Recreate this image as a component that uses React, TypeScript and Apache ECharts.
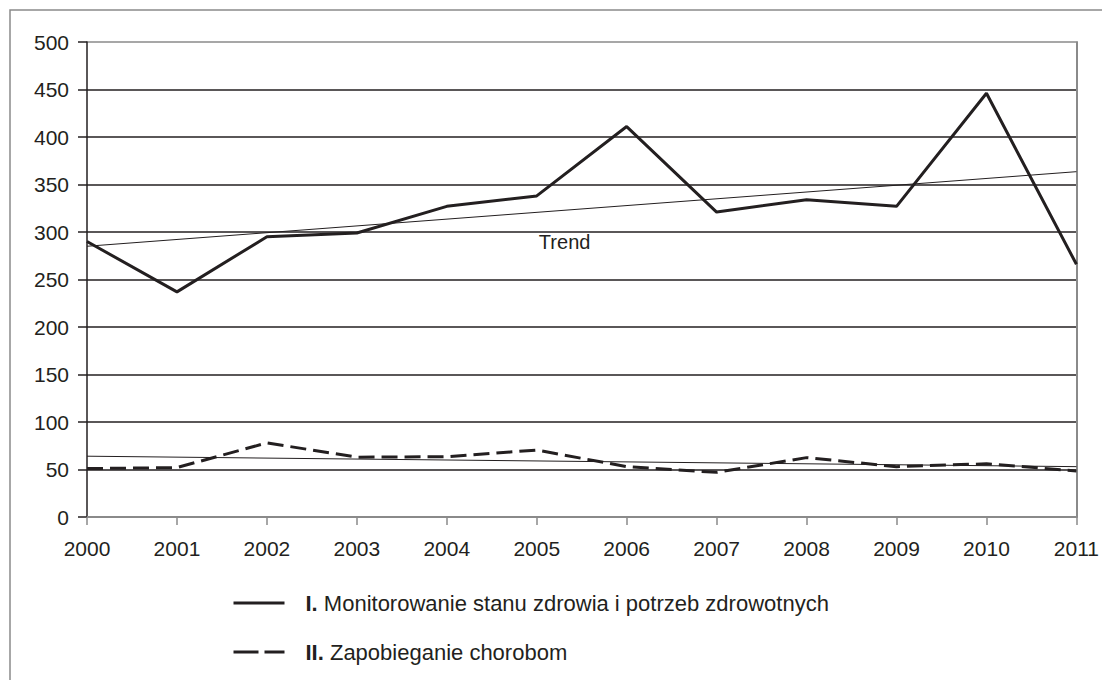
import React, { useEffect, useRef } from "react";
import * as echarts from "echarts";

const years = [2000, 2001, 2002, 2003, 2004, 2005, 2006, 2007, 2008, 2009, 2010, 2011];
const monitoring = [290, 237, 295, 299, 327, 338, 411, 321, 334, 327, 446, 266];
const prevention = [51, 52, 78, 63, 63.5, 70.5, 53, 47, 62.5, 53, 56, 48.5];
const trendMonitoring = [285, 363.5];
const trendPrevention = [64, 53];
const yTicks = [0, 500, 50];
const name1 = "I. Monitorowanie stanu zdrowia i potrzeb zdrowotnych";
const name2 = "II. Zapobieganie chorobom";
const trendLabel = "Trend";

const ink = "#231f20";
const gray = "#8a8a8a";
const font = "Liberation Sans, Arial, sans-serif";

export default function App() {
  const ref = useRef<HTMLDivElement>(null);
  useEffect(() => {
    const chart = echarts.init(ref.current!, null, { renderer: "svg" });
    const first = years[0];
    const last = years[years.length - 1];
    const splitColors = [] as string[];
    for (let v = yTicks[0]; v <= yTicks[1]; v += yTicks[2]) {
      splitColors.push(v === yTicks[1] ? gray : ink);
    }
    const fmtLegend = (n: string) => {
      const i = n.indexOf(" ");
      return "{r|" + n.slice(0, i) + "}{t|" + n.slice(i) + "}";
    };
    chart.setOption({
      animation: false,
      graphic: [
        {
          type: "rect",
          shape: { x: 10, y: 10, width: 1110, height: 700 },
          style: { fill: "none", stroke: gray, lineWidth: 1.5 },
          silent: true,
          z: -1,
        },
      ],
      grid: { left: 87, right: 22, top: 42, bottom: 163, containLabel: false },
      legend: {
        data: [
          { name: name1 },
          { name: name2, lineStyle: { type: [25, 6] } },
        ],
        orient: "vertical",
        left: 232,
        top: 591,
        padding: 0,
        itemWidth: 51,
        itemHeight: 14,
        itemGap: 25,
        itemStyle: { opacity: 0 },
        lineStyle: { width: 3, color: ink },
        formatter: fmtLegend,
        textStyle: {
          color: ink,
          fontFamily: font,
          fontSize: 22,
          lineHeight: 24,
          padding: [0, 0, 0, 16],
          rich: {
            r: { fontFamily: "Liberation Sans Narrow, Arial Narrow, sans-serif", fontWeight: "bold", fontSize: 22, lineHeight: 24, color: ink },
            t: { fontFamily: font, fontSize: 22, lineHeight: 24, color: ink },
          },
        },
      },
      xAxis: {
        type: "value",
        min: first,
        max: last,
        interval: 1,
        axisLine: { show: true, lineStyle: { color: gray, width: 2 } },
        axisTick: { show: true, length: 8, lineStyle: { color: gray, width: 1.5 } },
        axisLabel: {
          color: ink,
          fontFamily: font,
          fontSize: 21,
          margin: 21,
          formatter: (v: number) => String(v),
        },
        splitLine: { show: false },
      },
      yAxis: [
        {
          type: "value",
          min: yTicks[0],
          max: yTicks[1],
          interval: yTicks[2],
          axisLine: { show: true, lineStyle: { color: ink, width: 1.5 } },
          axisTick: { show: true, length: 9, lineStyle: { color: ink, width: 1.5 } },
          axisLabel: { color: ink, fontFamily: font, fontSize: 21, margin: 18 },
          splitLine: { show: true, lineStyle: { color: splitColors, width: 1.5 } },
        },
        {
          type: "value",
          position: "right",
          min: yTicks[0],
          max: yTicks[1],
          interval: yTicks[2],
          axisLine: { show: true, lineStyle: { color: gray, width: 2 } },
          axisTick: { show: false },
          axisLabel: { show: false },
          splitLine: { show: false },
        },
      ],
      series: [
        {
          name: "trend1",
          type: "line",
          data: [
            [first, trendMonitoring[0]],
            [last, trendMonitoring[1]],
          ],
          symbol: "none",
          lineStyle: { color: ink, width: 1 },
          markPoint: {
            symbol: "circle",
            symbolSize: 0,
            data: [{ coord: [2005.31, 289] }],
            label: { show: true, formatter: trendLabel, color: ink, fontFamily: font, fontSize: 20, position: "inside" },
          },
          z: 2,
        },
        {
          name: "trend2",
          type: "line",
          data: [
            [first, trendPrevention[0]],
            [last, trendPrevention[1]],
          ],
          symbol: "none",
          lineStyle: { color: ink, width: 1 },
          z: 2,
        },
        {
          name: name1,
          type: "line",
          data: years.map((y, i) => [y, monitoring[i]]),
          symbol: "none",
          itemStyle: { color: ink },
          lineStyle: { color: ink, width: 3 },
          z: 3,
        },
        {
          name: name2,
          type: "line",
          data: years.map((y, i) => [y, prevention[i]]),
          symbol: "none",
          itemStyle: { color: ink },
          lineStyle: { color: ink, width: 3, type: [16, 7] },
          z: 3,
        },
      ],
    });
    return () => chart.dispose();
  }, []);
  return (
    <div
      ref={ref}
      style={{ position: "fixed", left: 0, top: 0, width: 1102, height: 680, background: "#fff" }}
    />
  );
}
